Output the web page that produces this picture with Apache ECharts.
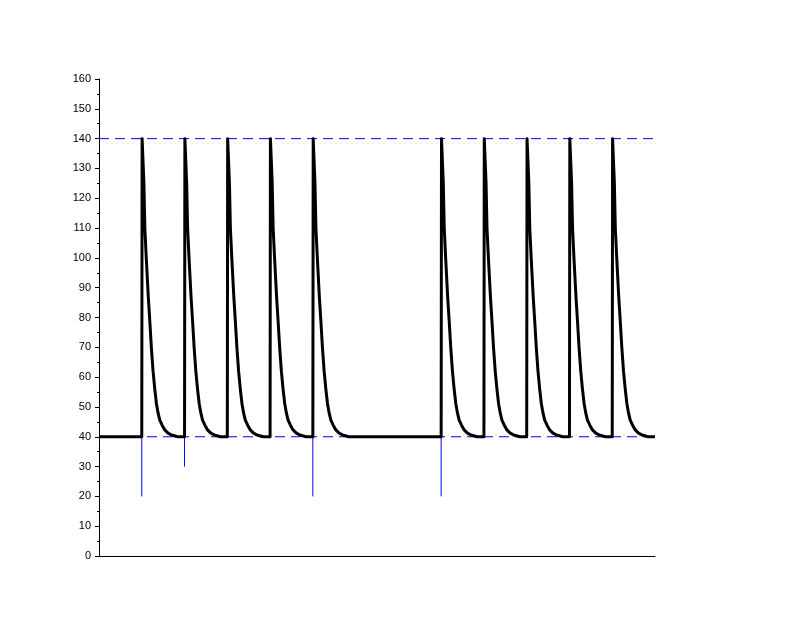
<!DOCTYPE html>
<html>
<head>
<meta charset="utf-8">
<script src="https://cdn.jsdelivr.net/npm/echarts@6/dist/echarts.min.js"></script>
<style>html,body{margin:0;padding:0;background:#fff}#c{width:797px;height:636px}</style>
</head>
<body>
<div id="c"></div>
<script>
// Time axis range (arbitrary units; pulses every 1 unit)
var xRange = [0, 13];
// Pulse start times
var pulseStarts = [1, 2, 3, 4, 5, 8, 9, 10, 11, 12];
// One pulse profile: offset after start, value
var pulseOffsets = [0, 0.008, 0.03, 0.05, 0.072, 0.105, 0.152, 0.187, 0.224, 0.264, 0.304, 0.344, 0.381, 0.421, 0.479, 0.538, 0.608, 0.694, 0.842];
var pulseValues  = [40, 140, 140, 125, 110, 100, 87, 79, 70, 62, 56, 51, 48, 45.6, 43.8, 42.3, 41.3, 40.6, 40];
var baseline = 40;
// Dashed reference levels
var refLevels = [140, 40];
// Thin vertical markers: time and lowest value
var markerTimes = [1, 2, 5, 8];
var markerLows  = [20, 30, 20, 20];
// Y axis ticks
var yTicks = [0, 10, 20, 30, 40, 50, 60, 70, 80, 90, 100, 110, 120, 130, 140, 150, 160];

var curve = [[xRange[0], baseline]];
pulseStarts.forEach(function (s) {
  for (var i = 0; i < pulseOffsets.length; i++) curve.push([s + pulseOffsets[i], pulseValues[i]]);
});
curve.push([xRange[1], baseline]);

var series = [];
refLevels.forEach(function (v) {
  series.push({type: 'line', data: [[xRange[0], v], [xRange[1], v]], symbol: 'none', z: 1,
    lineStyle: {color: '#0000ff', width: 1, type: [10, 6]}, silent: true});
});
markerTimes.forEach(function (t, i) {
  series.push({type: 'line', data: [[t, baseline], [t, markerLows[i]]], symbol: 'none', z: 2,
    lineStyle: {color: '#0000ff', width: 1}, silent: true});
});
series.push({type: 'line', data: curve, symbol: 'none', z: 3,
  lineStyle: {color: '#000000', width: 3, join: 'round'}, silent: true});

var chart = echarts.init(document.getElementById('c'), null, {renderer: 'canvas'});
chart.setOption({
  animation: false,
  backgroundColor: '#ffffff',
  grid: {left: 99, right: 142, top: 79, bottom: 80, containLabel: false},
  xAxis: {type: 'value', min: xRange[0], max: xRange[1],
    axisLine: {show: true, onZero: false, lineStyle: {color: '#000', width: 1}},
    axisTick: {show: false}, axisLabel: {show: false}, splitLine: {show: false}},
  yAxis: {type: 'value', min: yTicks[0], max: yTicks[yTicks.length - 1], interval: yTicks[1] - yTicks[0],
    axisLine: {show: true, lineStyle: {color: '#000', width: 1}},
    axisTick: {show: true, length: 4, lineStyle: {color: '#000'}},
    minorTick: {show: true, splitNumber: 2, length: 2, lineStyle: {color: '#000'}},
    axisLabel: {color: '#000', fontSize: 11, fontFamily: 'Liberation Sans, Arial, sans-serif', margin: 8},
    splitLine: {show: false}},
  series: series
});
</script>
</body>
</html>
